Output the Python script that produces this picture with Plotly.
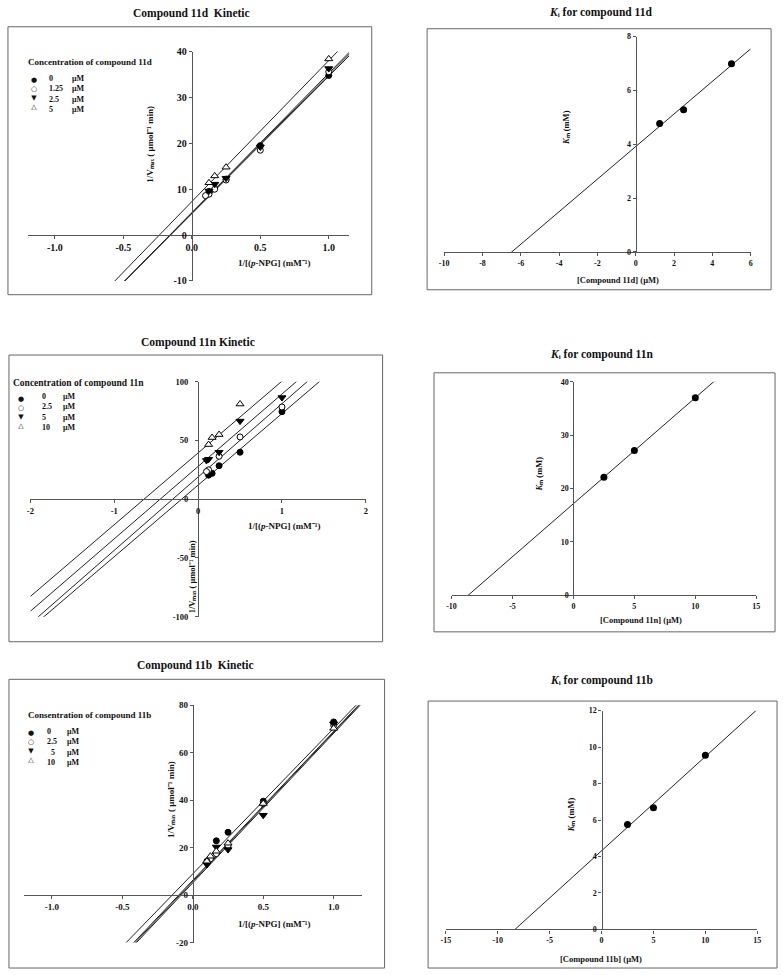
import numpy as np
import plotly.graph_objects as go

W, H = 783, 975

# ---------------- data ----------------
conc_11d = ["0", "1.25", "2.5", "5"]
d_x_0 = [1.0, 0.5, 0.25, 0.125]
d_y_0 = [34.8, 19.5, 12.2, 9.5]
d_x_125 = [1.0, 0.5, 0.25, 0.167, 0.125, 0.1]
d_y_125 = [35.6, 18.5, 12.0, 10.0, 8.9, 8.6]
d_x_25 = [1.0, 0.5, 0.25, 0.167, 0.125]
d_y_25 = [36.3, 19.2, 12.4, 11.1, 9.6]
d_x_5 = [1.0, 0.25, 0.167, 0.125]
d_y_5 = [38.4, 14.8, 12.9, 11.4]
d_fit_slope = [29.94, 30.16, 30.4, 30.75]
d_fit_icept = [4.67, 4.78, 4.9, 7.3]

ki_d_conc = [1.25, 2.5, 5.0]
ki_d_km = [4.77, 5.28, 6.99]

conc_11n = ["0", "2.5", "5", "10"]
n_x_0 = [1.0, 0.5, 0.25, 0.167, 0.125]
n_y_0 = [74.5, 40.0, 28.5, 22.0, 20.5]
n_x_25 = [1.0, 0.5, 0.25, 0.125, 0.1]
n_y_25 = [78.5, 53.0, 36.5, 25.0, 23.5]
n_x_5 = [1.0, 0.5, 0.25, 0.125, 0.1]
n_y_5 = [86.5, 66.5, 40.0, 34.0, 33.0]
n_x_10 = [1.0, 0.5, 0.25, 0.167, 0.125]
n_y_10 = [100.5, 81.0, 55.0, 52.5, 46.5]
n_fit_slope = [60.9, 62.4, 61.6, 61.06]
n_fit_icept = [12.0, 18.9, 27.9, 39.4]

ki_n_conc = [2.5, 5.0, 10.0]
ki_n_km = [22.1, 27.1, 37.0]

conc_11b = ["0", "2.5", " 5", "10"]
b_x_0 = [1.0, 0.5, 0.25, 0.167]
b_y_0 = [73.0, 39.6, 26.5, 22.9]
b_x_25 = [1.0, 0.5, 0.25, 0.167, 0.125, 0.1]
b_y_25 = [71.6, 38.6, 20.8, 17.5, 15.3, 14.3]
b_x_5 = [1.0, 0.5, 0.25, 0.167, 0.1]
b_y_5 = [72.2, 33.7, 19.2, 20.3, 12.9]
b_x_10 = [1.0, 0.5, 0.25, 0.167, 0.125, 0.1]
b_y_10 = [70.3, 38.6, 21.9, 18.5, 16.4, 14.3]
b_fit_slope = [61.3, 62.7, 63.0, 62.9]
b_fit_icept = [9.0, 6.3, 5.2, 5.8]

ki_b_conc = [2.5, 5.0, 10.0]
ki_b_km = [5.76, 6.67, 9.56]

# tick values / labels
t1x = [-1.0, -0.5, 0.0, 0.5, 1.0]; t1xl = ["-1.0", "-0.5", "0.0", "0.5", "1.0"]
t1y = [-10, 0, 10, 20, 30, 40]; t1yl = ["-10", "0", "10", "20", "30", "40"]
t2x = [-10, -8, -6, -4, -2, 0, 2, 4, 6]; t2xl = ["-10", "-8", "-6", "-4", "-2", "0", "2", "4", "6"]
t2y = [0, 2, 4, 6, 8]; t2yl = ["0", "2", "4", "6", "8"]
t3x = [-2, -1, 0, 1, 2]; t3xl = ["-2", "-1", "0", "1", "2"]
t3y = [-100, -50, 0, 50, 100]; t3yl = ["-100", "-50", "0", "50", "100"]
t4x = [-10, -5, 0, 5, 10, 15]; t4xl = ["-10", "-5", "0", "5", "10", "15"]
t4y = [0, 10, 20, 30, 40]; t4yl = ["0", "10", "20", "30", "40"]
t5x = [-1.0, -0.5, 0.0, 0.5, 1.0]; t5xl = ["-1.0", "-0.5", "0.0", "0.5", "1.0"]
t5y = [-20, 0, 20, 40, 60, 80]; t5yl = ["-20", "0", "20", "40", "60", "80"]
t6x = [-15, -10, -5, 0, 5, 10, 15]; t6xl = ["-15", "-10", "-5", "0", "5", "10", "15"]
t6y = [0, 2, 4, 6, 8, 10, 12]; t6yl = ["0", "2", "4", "6", "8", "10", "12"]

# ---------------- styling ----------------
FONT = "Liberation Serif"
INK = "#111111"
AX = "#555555"
MARK = [
    dict(symbol="circle", color="black", size=6, line=dict(color="black", width=1)),
    dict(symbol="circle", color="white", size=6, line=dict(color="black", width=1)),
    dict(symbol="triangle-down", color="black", size=7, line=dict(color="black", width=1)),
    dict(symbol="triangle-up", color="white", size=7, line=dict(color="black", width=1)),
]
LEG_SYM = ["\u25CF", "\u25CB", "\u25BC", "\u25B3"]

fig = go.Figure()
annotations = []
shapes = []


def pxx(p):
    return p / W


def pxy(p):
    return 1 - p / H


def ann(text, x, y, size, xanchor="center", yanchor="middle", angle=0,
        family=FONT, align="center", weight="bold"):
    annotations.append(dict(
        text=text, x=pxx(x), y=pxy(y), xref="paper", yref="paper",
        xanchor=xanchor, yanchor=yanchor, showarrow=False, textangle=angle,
        align=align, borderpad=0,
        font=dict(family=family, size=size, color=INK, weight=weight)))


def box(l, t, r, b, color="#666666"):
    shapes.append(dict(type="rect", xref="paper", yref="paper",
                       x0=pxx(l), x1=pxx(r), y0=pxy(b), y1=pxy(t),
                       line=dict(color=color, width=1)))


def setup_axes(i, xr, yr, l, r, t, b, tx, txl, ty, tyl, fs, ystand=0):
    # x axis sits at data y=0, y axis at data x=0
    y0px = t + (yr[1] - 0) / (yr[1] - yr[0]) * (b - t)
    x0px = l + (0 - xr[0]) / (xr[1] - xr[0]) * (r - l)
    sfx = "" if i == 1 else str(i)
    tf = dict(family=FONT, size=fs, color=INK, weight="bold")
    fig.layout["xaxis" + sfx] = dict(
        domain=[pxx(l), pxx(r)], range=xr, anchor="free", position=pxy(y0px),
        showline=True, linecolor=AX, linewidth=1.2, ticks="outside", ticklen=3,
        tickcolor=AX, tickwidth=1, tickvals=tx, ticktext=txl, tickfont=tf,
        showgrid=False, zeroline=False, fixedrange=True)
    fig.layout["yaxis" + sfx] = dict(
        domain=[pxy(b), pxy(t)], range=yr, anchor="free", position=pxx(x0px),
        showline=True, linecolor=AX, linewidth=1.2, ticks="outside", ticklen=3,
        tickcolor=AX, tickwidth=1, tickvals=ty, ticktext=tyl, tickfont=tf,
        ticklabelstandoff=ystand,
        showgrid=False, zeroline=False, fixedrange=True)


def kinetic(i, xr, names, xs, ys, slopes, icepts):
    sfx = "" if i == 1 else str(i)
    lx, ly = [], []
    for k in range(4):
        for xv in xr:
            lx.append(xv)
            ly.append(slopes[k] * xv + icepts[k])
        lx.append(None)
        ly.append(None)
    fig.add_trace(go.Scatter(
        x=lx, y=ly, mode="lines", connectgaps=False,
        line=dict(color="#222222", width=1), showlegend=False, hoverinfo="skip",
        xaxis="x" + sfx, yaxis="y" + sfx))
    for k in range(4):
        fig.add_trace(go.Scatter(
            x=xs[k], y=ys[k], mode="markers", marker=MARK[k], cliponaxis=False,
            name=names[k].strip() + " \u03bcM", showlegend=False,
            xaxis="x" + sfx, yaxis="y" + sfx))


def kiplot(i, xr, conc, km):
    sfx = "" if i == 1 else str(i)
    slope, icept = np.polyfit(conc, km, 1)
    xline = np.array(xr, dtype=float)
    fig.add_trace(go.Scatter(
        x=xline, y=slope * xline + icept, mode="lines",
        line=dict(color="#222222", width=1), showlegend=False, hoverinfo="skip",
        xaxis="x" + sfx, yaxis="y" + sfx))
    fig.add_trace(go.Scatter(
        x=conc, y=km, mode="markers", cliponaxis=False, name="Km",
        marker=dict(symbol="circle", color="black", size=7), showlegend=False,
        xaxis="x" + sfx, yaxis="y" + sfx))


def legend(title, tx, ty, rows_mid, mx, vx, ux, labels, tsize, isize):
    ann(title, tx, ty, tsize, xanchor="left")
    ann("<br>".join(LEG_SYM), mx, rows_mid, isize - 1, family="DejaVu Sans",
        weight="normal")
    ann("<br>".join(s.replace(" ", "&nbsp;&nbsp;") for s in labels), vx, rows_mid,
        isize, xanchor="left", align="left")
    ann("<br>".join(["\u03bcM"] * 4), ux, rows_mid, isize, xanchor="left", align="left")


# unicode sub/superscripts
YT = "1/V\u2098\u2090\u2093 ( \u03bcmol\u207B\u00B9 min)"
XT = "1/[(<i>p</i>-NPG] (mM\u207B\u00B9)"
KM = "<i>K</i>\u2098 (mM)"
KI = "<i>K</i>\u1D62 for compound "

# ---- panel 1: compound 11d kinetic ----
box(3, 21, 371, 292)
setup_axes(1, [-1.2, 1.15], [-10, 40], 22.8, 348.3, 46.1, 278.1, t1x, t1xl, t1y, t1yl, 10)
kinetic(1, [-1.2, 1.15], conc_11d, [d_x_0, d_x_125, d_x_25, d_x_5],
        [d_y_0, d_y_125, d_y_25, d_y_5], d_fit_slope, d_fit_icept)
ann("Compound 11d  Kinetic", 189, 8, 11.5)
ann(XT, 272, 260, 9)
ann(YT, 147, 140, 9, angle=-90)
legend("Concentration of compound 11d", 22, 57, 89, 29, 44, 66.5, conc_11d, 9, 8)

# ---- panel 2: Ki 11d ----
box(427, 23, 775, 287)
setup_axes(2, [-10, 6], [0, 8], 444.3, 754.3, 31, 248.7, t2x, t2xl, t2y, t2yl, 8)
kiplot(2, [-10, 6], ki_d_conc, ki_d_km)
ann(KI + "11d", 602, 7, 11.5)
ann("[Compound 11d] (\u03bcM)", 620, 277, 8.5)
ann(KM, 567, 123, 8.5, angle=-90)

# ---- panel 3: compound 11n kinetic ----
box(4, 353, 382, 643)
setup_axes(3, [-2, 2], [-100, 100], 25.7, 365, 380, 617.7, t3x, t3xl, t3y, t3yl, 8.5,
           ystand=5)
kinetic(3, [-2, 2], conc_11n, [n_x_0, n_x_25, n_x_5, n_x_10],
        [n_y_0, n_y_25, n_y_5, n_y_10], n_fit_slope, n_fit_icept)
ann("Compound 11n Kinetic", 195, 340, 11.5)
ann(XT, 282, 526, 9)
ann(YT, 190, 577, 8.5, angle=-90)
legend("Concentration of compound 11n", 7, 381, 411, 16, 36, 58, conc_11n, 9.5, 8)

# ---- panel 4: Ki 11n ----
box(434, 371, 779, 633)
setup_axes(4, [-10, 15], [0, 40], 451.7, 760, 380, 596, t4x, t4xl, t4y, t4yl, 8)
kiplot(4, [-10, 15], ki_n_conc, ki_n_km)
ann(KI + "11n", 603, 352, 11.5)
ann("[Compound 11n] (\u03bcM)", 643, 621, 8.5)
ann(KM, 540, 473, 8.5, angle=-90)

# ---- panel 5: compound 11b kinetic ----
box(4, 681, 384, 973)
setup_axes(5, [-1.2, 1.2], [-20, 80], 19, 361, 707.3, 947.3, t5x, t5xl, t5y, t5yl, 9)
kinetic(5, [-1.2, 1.2], conc_11b, [b_x_0, b_x_25, b_x_5, b_x_10],
        [b_y_0, b_y_25, b_y_5, b_y_10], b_fit_slope, b_fit_icept)
ann("Compound 11b  Kinetic", 193, 667, 11.5)
ann(XT, 272, 928, 9)
ann(YT, 168, 803, 9, angle=-90)
legend("Consentration of compound 11b", 22.5, 717.3, 749, 26, 41, 61.7, conc_11b, 9, 8)

# ---- panel 6: Ki 11b ----
box(428, 703, 781, 973)
setup_axes(6, [-15, 15], [0, 12], 446, 761, 712.7, 934, t6x, t6xl, t6y, t6yl, 8)
kiplot(6, [-15, 15], ki_b_conc, ki_b_km)
ann(KI + "11b", 603, 682, 11.5)
ann("[Compound 11b] (\u03bcM)", 603, 964, 8.5)
ann(KM, 572, 818, 8.5, angle=-90)

fig.update_layout(
    width=W, height=H, margin=dict(l=0, r=0, t=0, b=0),
    paper_bgcolor="white", plot_bgcolor="rgba(0,0,0,0)",
    showlegend=False, annotations=annotations, shapes=shapes,
    font=dict(family=FONT, color=INK),
)

POST = (
    "document.documentElement.style.margin='0';"
    "document.documentElement.style.overflow='hidden';"
    "document.body.style.margin='0';"
    "document.body.style.padding='0';"
    "document.body.style.overflow='hidden';"
    "var g=document.getElementById('{plot_id}');"
    "g.style.display='block';"
    "var p=g.parentElement;"
    "p.style.fontSize='0';p.style.lineHeight='0';"
    "p.style.height='975px';p.style.overflow='hidden';"
)

fig.write_html("out.html", config={"displayModeBar": False}, post_script=POST)
